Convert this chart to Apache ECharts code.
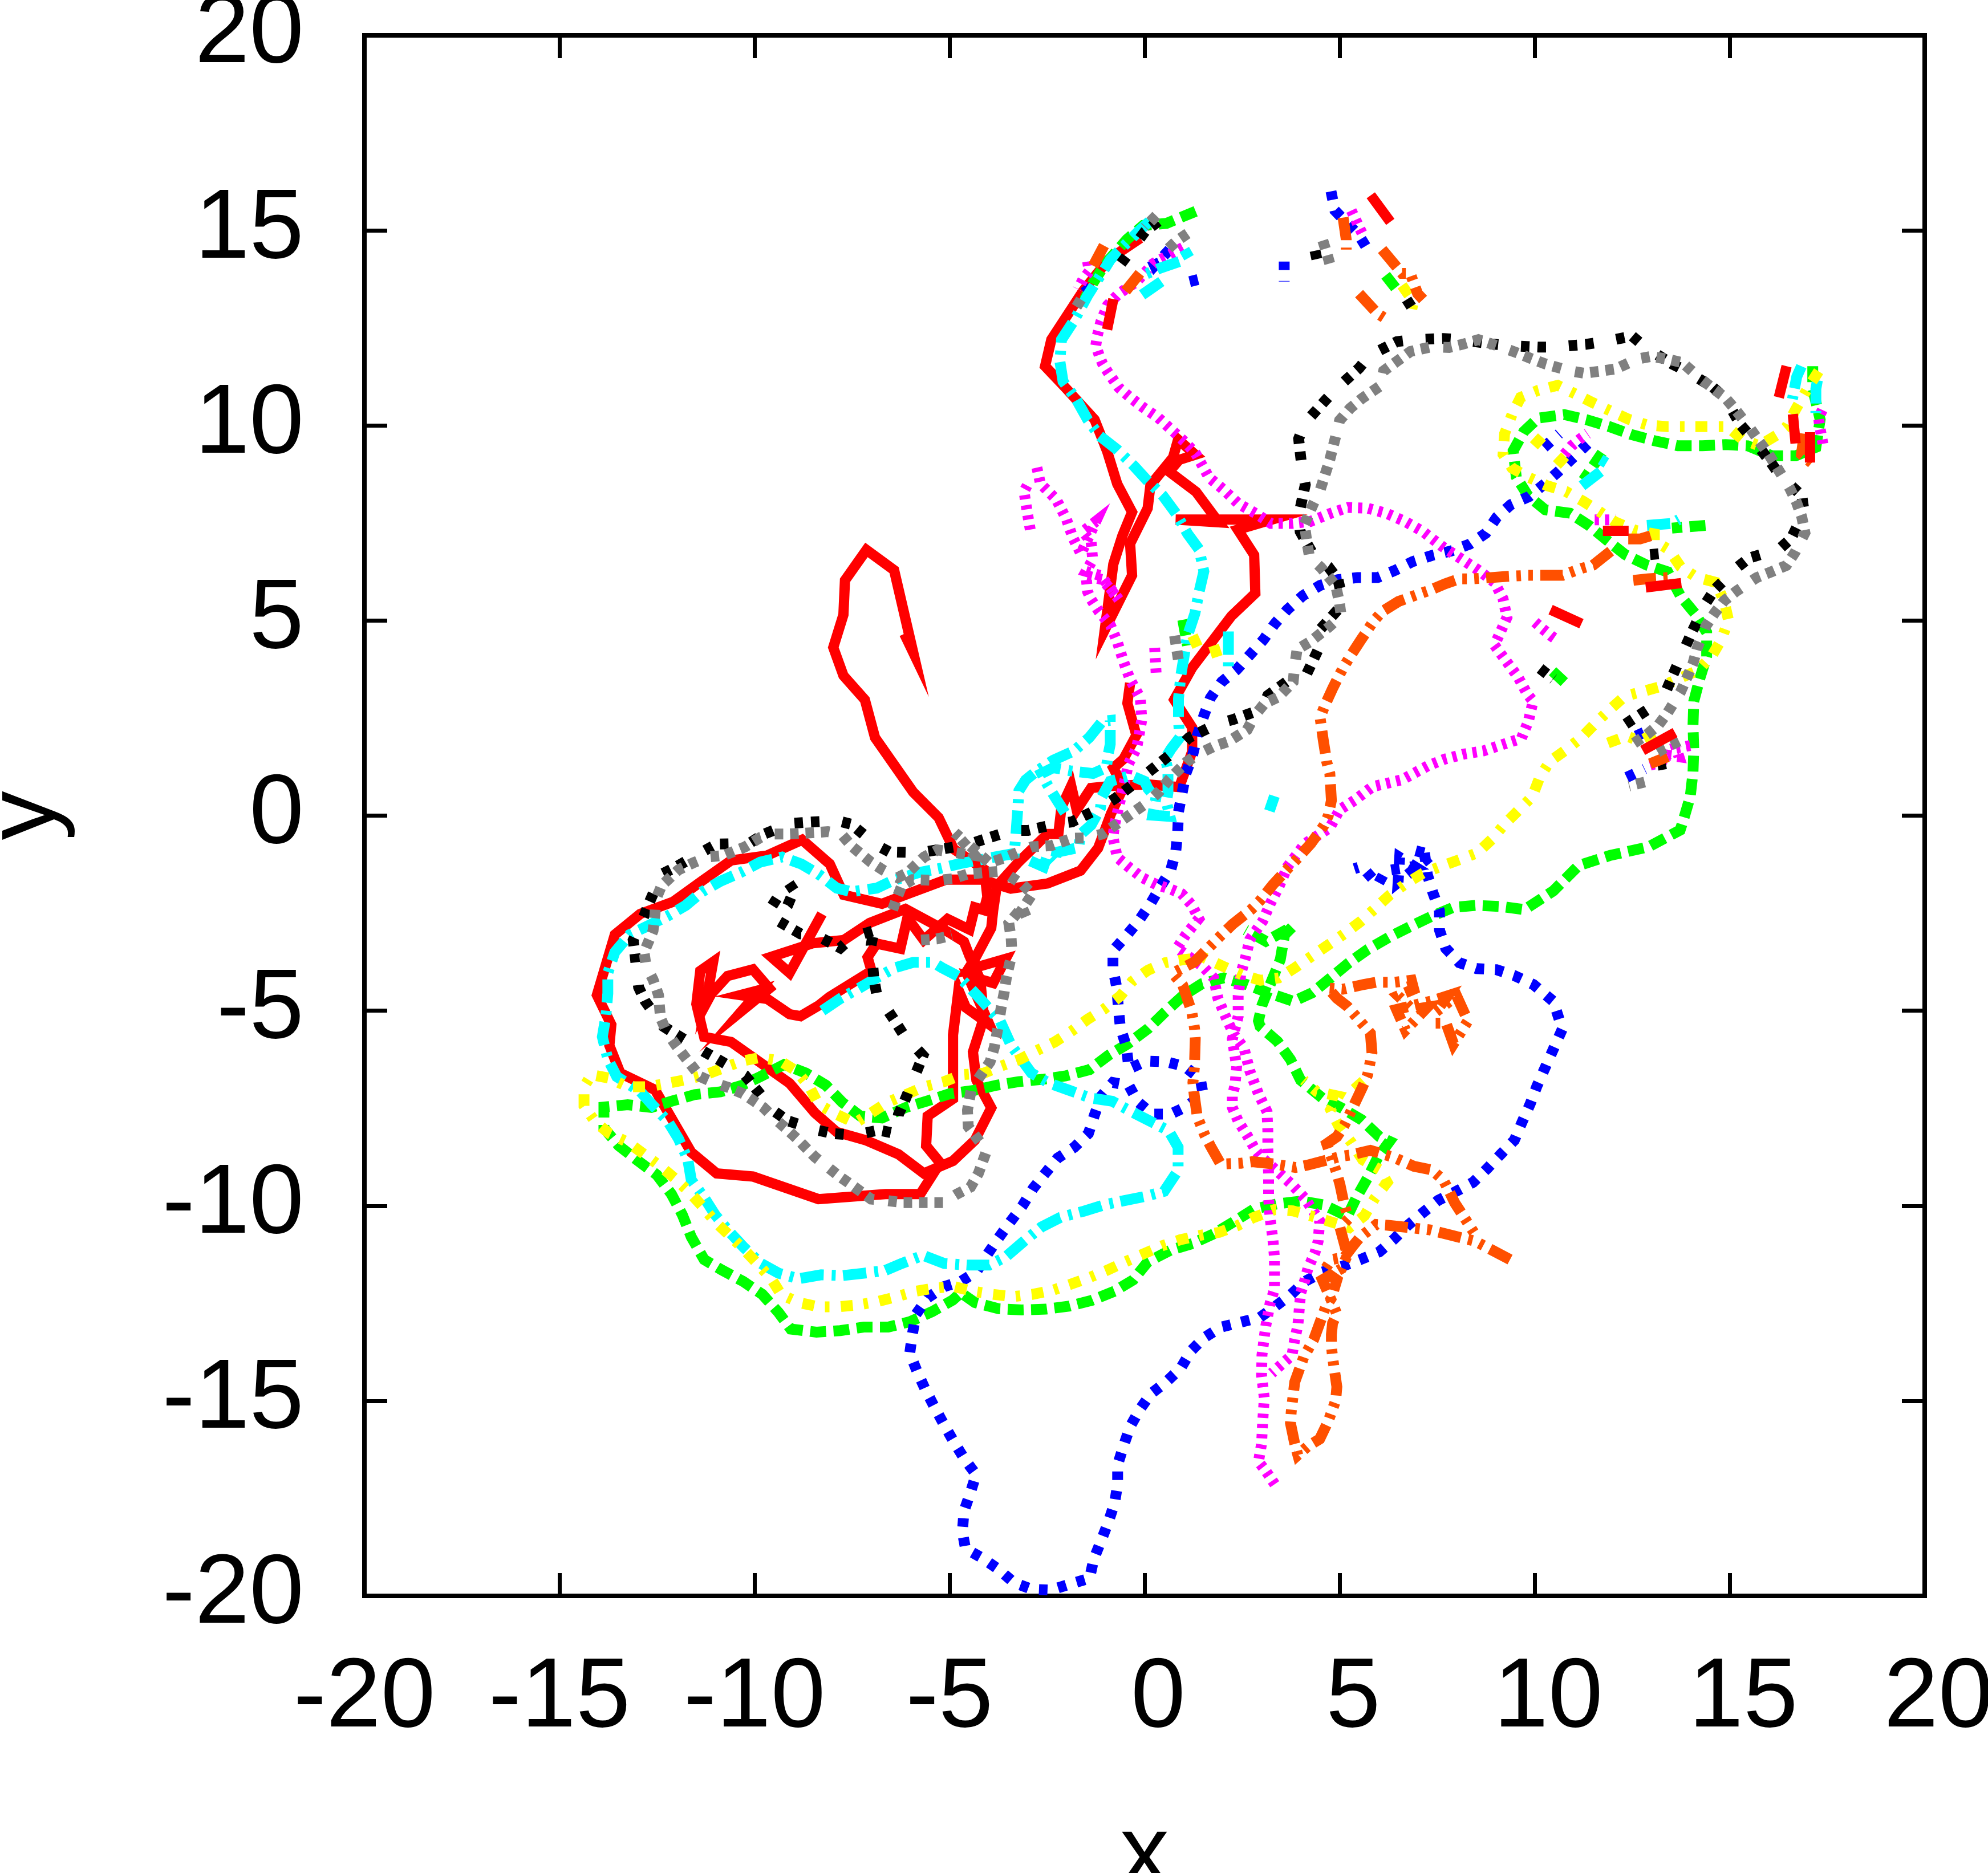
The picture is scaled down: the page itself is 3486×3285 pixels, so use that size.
<!DOCTYPE html>
<html>
<head>
<meta charset="utf-8">
<title>x y trajectories</title>
<script src="https://cdn.jsdelivr.net/npm/echarts@6/dist/echarts.min.js"></script>
<style>
  html, body { margin: 0; padding: 0; background: #fff; }
  #chart { width: 3486px; height: 3285px; }
</style>
</head>
<body>
<div id="chart"></div>
<script>
// tick labels
const xTicks = [-20, -15, -10, -5, 0, 5, 10, 15, 20]
const yTicks = [-20, -15, -10, -5, 0, 5, 10, 15, 20]

// red
const redLoopInner = [[-6.16,4.66],[-5.93,4.18],[-6.42,6.29],[-7.13,6.81],[-7.68,6.03],[-7.72,5.15],[-7.98,4.31],[-7.72,3.59],[-7.17,2.97],[-6.91,2.0],[-5.93,0.6],[-5.28,-0.05],[-4.89,-0.86],[-4.11,-1.38],[-4.03,-2.08],[-4.12,-2.42],[-4.35,-2.35],[-4.49,-2.92],[-5.05,-2.65],[-5.66,-3.19],[-6.08,-2.62],[-6.26,-3.41],[-6.87,-3.28],[-7.1,-3.63],[-7.0,-3.98],[-8.08,-4.65],[-8.36,-4.87],[-8.82,-5.14],[-9.1,-5.09],[-9.67,-4.7],[-10.36,-4.6],[-9.86,-4.47],[-10.32,-5.0],[-9.62,-4.43],[-10.04,-3.94],[-10.69,-4.11],[-11.11,-4.57],[-11.25,-4.83],[-11.06,-3.75],[-11.39,-3.98],[-11.49,-4.83],[-11.29,-5.67],[-10.6,-5.8],[-9.1,-6.86],[-8.45,-7.62],[-7.89,-8.11],[-7.15,-8.32],[-6.31,-8.68],[-5.66,-9.17],[-4.91,-8.85],[-4.35,-8.32],[-3.93,-7.49],[-4.31,-6.78],[-4.4,-6.06],[-4.12,-5.18],[-4.21,-4.21],[-4.49,-3.59],[-4.63,-3.23],[-5.0,-3.0],[-6.13,-2.39],[-7.05,-2.75],[-7.71,-3.19],[-8.5,-3.27],[-9.57,-3.62],[-9.1,-4.03],[-8.27,-2.52]]
const redLoopOuter = [[-0.11,14.8],[-0.93,14.25],[-1.58,13.44],[-2.39,12.2],[-2.55,11.52],[-2.03,10.97],[-1.28,10.15],[-0.96,9.34],[-0.7,8.5],[-0.32,7.78],[-0.57,7.17],[-0.8,6.45],[-1.02,4.76],[-0.32,6.16],[-0.37,6.97],[0.08,7.88],[0.15,8.47],[0.73,9.18],[0.86,9.64],[1.3,9.25],[0.89,9.12],[0.63,8.82],[1.32,8.3],[1.9,7.52],[0.8,7.59],[3.27,7.59],[2.39,7.33],[2.81,6.68],[2.84,5.7],[2.23,5.12],[1.22,3.79],[0.76,2.97],[1.22,2.26],[1.22,1.64],[0.89,0.73],[0.08,0.8],[-0.86,0.76],[-1.37,0.71],[-1.74,0.15],[-1.88,0.76],[-2.13,0.22],[-2.21,-0.47],[-2.49,-0.47],[-3.23,-1.19],[-3.79,-1.81],[-3.88,-2.42],[-3.93,-2.88],[-4.35,-3.67],[-4.53,-3.95],[-3.56,-3.67],[-3.88,-4.29],[-4.53,-4.11],[-3.98,-5.35],[-4.58,-4.92],[-4.77,-4.47],[-4.91,-5.62],[-4.91,-6.95],[-4.91,-7.26],[-5.56,-7.7],[-5.6,-8.46],[-5.24,-8.9],[-5.75,-9.7],[-6.64,-9.7],[-8.36,-9.83],[-10.04,-9.25],[-10.97,-9.17],[-11.62,-8.63],[-12.55,-7.03],[-13.44,-6.6],[-13.72,-5.89],[-13.67,-5.36],[-14.04,-4.6],[-13.58,-3.05],[-12.93,-2.52],[-12.09,-2.21],[-11.34,-1.67],[-10.6,-1.15],[-9.67,-1.02],[-8.78,-0.62],[-8.07,-1.24],[-7.71,-2.03],[-6.73,-2.26],[-6.13,-2.03],[-5.09,-1.64],[-4.18,-1.64],[-3.43,-1.87],[-2.49,-1.74],[-1.64,-1.41],[-1.19,-0.83],[-0.86,0.05],[-0.54,0.73],[-0.8,1.22],[-0.54,1.45],[-0.21,2.06],[-0.44,2.88],[-0.37,3.4]]
const redBits = [
  [[-0.8,13.24],[-0.96,12.46]],
  [[5.8,15.9],[6.3,15.22]],
  [[16.46,11.52],[16.26,10.72]],
  [[16.62,10.29],[16.69,9.54]],
  [[17.06,9.83],[17.06,9.05]],
  [[11.75,7.3],[12.41,7.3]],
  [[12.85,5.85],[13.76,5.96]],
  [[10.41,5.28],[11.2,4.92]],
  [[12.77,1.67],[13.6,2.13]]
]

// green
const greenMain = [[17.13,11.52],[17.13,10.94],[17.32,10.15],[17.21,9.44],[16.69,9.22],[16.09,9.22],[15.46,9.48],[14.9,9.51],[14.3,9.48],[13.67,9.48],[13.07,9.61],[12.47,9.77],[11.92,9.97],[11.32,10.15],[10.76,10.28],[10.09,10.19],[9.72,9.84],[9.45,9.35],[9.53,8.68],[9.83,8.2],[10.27,7.84],[10.91,7.75],[11.39,7.44],[11.88,7.04],[12.32,6.69],[12.88,6.42],[13.41,6.25],[13.74,5.63],[14.11,5.18],[14.41,4.7],[14.41,4.08],[14.23,3.5],[14.08,2.93],[14.06,2.31],[14.08,1.69],[14.06,1.11],[13.99,0.49],[13.82,-0.09],[13.73,-0.37],[12.92,-0.8],[11.94,-1.02],[11.13,-1.28],[10.48,-1.93],[9.74,-2.41],[9.15,-2.33],[8.51,-2.3],[7.92,-2.35],[7.36,-2.58],[6.8,-2.85],[6.28,-3.11],[5.72,-3.43],[5.23,-3.78],[4.77,-4.16],[4.3,-4.54],[3.82,-4.76],[3.22,-4.56],[2.62,-4.33],[2.03,-4.16],[1.47,-4.31],[0.98,-4.62],[0.53,-5.03],[0.09,-5.46],[-0.43,-5.85],[-0.92,-6.14],[-1.41,-6.51],[-2.02,-6.67],[-2.62,-6.76],[-3.23,-6.82],[-3.79,-6.91],[-4.35,-7.04],[-5.0,-7.13],[-5.56,-7.31],[-6.12,-7.48],[-6.73,-7.75],[-7.29,-7.7],[-7.75,-7.35],[-8.17,-6.91],[-8.68,-6.6],[-9.24,-6.38],[-9.85,-6.69],[-10.31,-6.91],[-10.87,-7.08],[-11.53,-7.15],[-12.09,-7.31],[-12.64,-7.48],[-13.25,-7.41],[-13.86,-7.47],[-13.86,-8.01],[-13.48,-8.46],[-12.97,-8.86],[-12.5,-9.21],[-12.13,-9.7],[-11.85,-10.23],[-11.62,-10.8],[-11.29,-11.38],[-10.83,-11.65],[-10.29,-11.94],[-9.8,-12.27],[-9.38,-12.74],[-9.07,-13.16],[-8.41,-13.24],[-7.8,-13.2],[-7.2,-13.11],[-6.57,-13.11],[-6.01,-12.97],[-5.44,-12.71],[-4.92,-12.42],[-4.71,-12.23],[-4.35,-12.48],[-3.74,-12.64],[-3.14,-12.67],[-2.53,-12.65],[-1.92,-12.57],[-1.34,-12.42],[-0.77,-12.19],[-0.29,-11.9],[0.08,-11.44],[0.66,-11.14],[1.23,-10.97],[1.77,-10.72],[2.32,-10.39],[2.8,-10.09],[3.41,-9.95],[4.02,-9.88],[4.6,-9.98],[5.2,-10.27],[5.42,-9.81],[5.72,-9.28],[5.98,-8.76],[6.28,-8.35],[6.02,-8.23],[5.57,-7.8],[5.08,-7.51],[4.56,-7.24],[4.0,-6.78],[3.74,-6.25],[3.41,-5.79],[2.96,-5.4],[2.92,-5.26],[3.01,-4.86],[3.22,-4.33],[3.48,-3.69],[3.59,-3.05],[3.8,-2.84],[3.11,-3.22],[2.59,-2.93]]
const greenBits = [
  [[11.73,9.3],[11.43,8.86],[11.25,8.6]],
  [[14.38,7.44],[13.52,7.37]],
  [[10.46,3.7],[10.87,3.32]],
  [[1.31,15.49],[0.56,15.18],[-0.03,15.13],[-0.45,14.77],[-1.0,14.15],[-1.33,13.64],[-1.54,13.23]],
  [[0.98,5.02],[1.1,4.36]],
  [[6.18,13.85],[6.55,13.38]]
]

// blue
const blueMain = [[11.36,9.53],[10.98,9.17],[10.61,8.82],[10.24,8.49],[9.86,8.18],[9.39,7.97],[9.03,7.65],[8.75,7.24],[8.34,6.96],[7.85,6.78],[7.37,6.67],[6.87,6.51],[6.43,6.29],[5.97,6.1],[5.46,6.1],[4.96,6.05],[4.5,5.9],[4.06,5.64],[3.66,5.28],[3.34,4.92],[3.05,4.51],[2.7,4.12],[2.36,3.74],[1.98,3.43],[1.69,3.02],[1.52,2.56],[1.35,2.05],[1.23,1.54],[1.06,1.08],[0.87,0.1],[0.85,-0.41],[0.8,-0.92],[0.67,-1.4],[0.4,-1.83],[0.15,-2.26],[-0.14,-2.68],[-0.46,-3.07],[-0.81,-3.46],[-0.81,-3.92],[-0.71,-4.42],[-0.67,-4.94],[-0.62,-5.44],[-0.47,-5.9],[-0.4,-6.49],[0.05,-6.29],[0.56,-6.31],[1.03,-6.43],[1.43,-6.75],[1.5,-7.13],[1.09,-7.45],[0.67,-7.65],[0.2,-7.65],[-0.17,-7.34],[-0.4,-6.92],[-0.81,-6.84],[-1.11,-7.19],[-1.29,-7.69],[-1.44,-8.15],[-1.8,-8.5],[-2.23,-8.78],[-2.55,-9.17],[-2.86,-9.56],[-3.13,-10.0],[-3.44,-10.41],[-3.74,-10.82],[-4.02,-11.23],[-4.31,-11.69],[-4.71,-11.94],[-5.13,-12.07],[-5.56,-12.36],[-5.86,-12.78],[-5.95,-13.28],[-6.02,-13.78],[-5.83,-14.25],[-5.62,-14.71],[-5.38,-15.17],[-5.14,-15.61],[-4.89,-16.05],[-4.63,-16.47],[-4.32,-16.89],[-4.47,-17.37],[-4.63,-17.83],[-4.67,-18.36],[-4.59,-18.79],[-4.16,-19.03],[-3.74,-19.32],[-3.35,-19.66],[-2.89,-19.83],[-2.4,-19.85],[-1.92,-19.7],[-1.41,-19.55],[-1.3,-19.05],[-1.11,-18.58],[-0.93,-18.11],[-0.77,-17.63],[-0.69,-17.14],[-0.69,-16.64],[-0.53,-16.13],[-0.37,-15.66],[-0.13,-15.23],[0.16,-14.82],[0.56,-14.51],[0.93,-14.16],[1.19,-13.72],[1.53,-13.38],[1.96,-13.11],[2.45,-12.99],[2.96,-12.86],[3.35,-12.58],[3.76,-12.27],[4.11,-11.94],[4.56,-11.7],[5.05,-11.56],[5.53,-11.38],[6.02,-11.18],[6.39,-10.86],[6.75,-10.5],[7.13,-10.18],[7.53,-9.86],[7.99,-9.63],[8.42,-9.4],[8.78,-9.05],[9.13,-8.68],[9.48,-8.32],[9.68,-7.85],[9.89,-7.38],[10.06,-6.93],[10.71,-5.47],[10.48,-4.76],[9.97,-4.33],[9.48,-4.1],[9.02,-3.95],[8.51,-3.92],[8.07,-3.77],[7.72,-3.4],[7.56,-2.93],[7.56,-2.44],[7.39,-1.97],[7.25,-1.51],[7.17,-0.9],[6.95,-0.9],[7.36,-1.01],[6.5,-1.71],[6.54,-1.07],[6.91,-1.3],[6.17,-1.42],[5.98,-1.77],[5.57,-1.3],[5.38,-1.36]]
const blueBits = [
  [[10.24,9.44],[10.63,9.79]],
  [[3.58,14.2],[3.58,13.69]],
  [[4.78,16.0],[4.88,15.51],[5.5,14.87],[5.78,14.41]],
  [[1.37,13.74],[0.89,13.62]],
  [[0.64,14.51],[0.26,14.1],[0.14,14.36]],
  [[-1.38,13.54],[-1.71,13.28]],
  [[12.36,0.98],[12.82,1.2]],
  [[12.8,2.13],[12.4,1.95]]
]

// magenta
const magentaTop = [[0.98,14.56],[0.22,14.15],[-0.2,13.69],[-0.66,13.38],[-0.95,13.08],[-1.12,12.66],[-1.21,12.31],[-1.25,12.05],[-1.16,11.79],[-1.08,11.59],[-0.95,11.38],[-0.66,10.97],[-0.37,10.72],[-0.03,10.46],[0.35,10.2],[0.68,9.9],[1.02,9.59],[1.31,9.28],[1.65,8.67],[2.02,8.36],[2.4,8.0],[2.86,7.74],[3.24,7.49],[3.79,7.49],[4.25,7.54],[4.75,7.74],[5.21,7.9],[5.72,7.88],[6.22,7.74],[6.68,7.54],[7.14,7.28],[7.6,6.92],[8.15,6.56],[8.56,6.29],[8.97,5.98],[9.19,5.56],[9.29,5.08],[9.08,4.61],[8.97,4.37],[9.25,3.99],[9.57,3.56],[9.81,3.12],[9.96,2.93],[9.84,2.42],[9.66,1.98],[9.17,1.82],[8.69,1.66],[8.2,1.58],[7.7,1.45],[7.27,1.28],[6.6,0.92],[5.84,0.74],[5.38,0.39],[5.0,0.15],[4.75,-0.31],[4.11,-0.72],[3.67,-1.3],[3.44,-1.83],[3.22,-2.26],[3.03,-2.7],[2.7,-3.17],[2.59,-3.63],[2.47,-4.04],[2.4,-4.62],[2.4,-5.15],[2.25,-5.73],[2.36,-6.43],[2.32,-6.9],[2.25,-7.19],[2.25,-7.48],[2.4,-7.83],[2.62,-8.18],[2.85,-8.58],[3.0,-8.76],[3.52,-9.22],[3.78,-9.46],[4.11,-9.81],[4.49,-10.39],[4.45,-10.91],[4.37,-11.2],[4.19,-11.6],[4.11,-11.9],[4.0,-12.25],[3.96,-12.72],[3.93,-13.07],[3.85,-13.42],[3.78,-13.83],[3.52,-14.06],[3.26,-14.29]]
const magentaMid = [[-2.76,8.92],[-2.67,8.51],[-2.26,8.1],[-2.0,7.59],[-1.84,7.13],[-1.63,6.71],[-1.25,7.54],[-1.58,7.28],[-1.37,7.02],[-1.33,6.56],[-1.5,6.26],[-1.12,6.15],[-0.66,5.54],[-1.08,6.05],[-1.5,6.15],[-1.46,5.74],[-1.37,5.54],[-1.17,5.23],[-0.87,4.87],[-0.7,4.46],[-0.54,3.95],[-0.37,3.49],[-0.11,3.02],[-0.07,2.46],[-0.2,1.74],[-0.41,1.33],[-0.77,-0.25],[-0.81,-0.55],[-0.7,-1.07],[-0.43,-1.3],[-0.06,-1.59],[0.31,-1.77],[0.68,-1.89],[0.95,-2.0],[1.21,-2.29],[1.39,-2.64],[1.06,-3.05],[0.83,-3.4],[1.24,-3.69],[1.5,-3.87],[1.77,-4.16],[1.88,-4.68],[2.0,-4.97],[2.1,-5.2],[2.29,-5.61],[2.55,-5.96],[2.7,-6.55],[2.92,-7.13],[3.14,-7.59],[3.16,-8.06],[3.16,-8.52],[3.18,-9.22],[3.18,-9.81],[3.22,-10.33],[3.29,-10.86],[3.33,-11.32],[3.33,-11.79],[3.33,-12.14],[3.22,-12.49],[3.11,-13.07],[3.07,-13.36],[3.01,-13.83],[3.0,-14.35],[3.07,-14.93],[3.03,-15.51],[3.0,-16.1],[2.92,-16.56],[3.11,-16.8],[3.38,-17.2]]
const magentaBits = [
  [[-3.01,8.46],[-3.09,8.31],[-3.01,7.79],[-2.93,7.33]],
  [[0.26,4.3],[0.3,3.59]],
  [[10.01,4.96],[10.2,4.79],[10.42,4.61],[10.61,4.48]],
  [[11.54,7.58],[12.07,7.58]],
  [[17.39,9.53],[17.35,9.75],[17.31,9.97],[17.28,10.19],[17.39,10.43]],
  [[10.76,9.26],[10.95,9.48],[11.17,9.66],[11.36,9.79]],
  [[12.96,1.29],[13.26,1.38],[13.41,1.55],[13.7,1.51],[13.63,1.73],[13.85,1.77],[14.12,1.82]],
  [[5.3,15.51],[5.41,15.28],[5.5,15.08],[5.63,14.82]],
  [[-1.46,14.2],[-1.42,13.95],[-1.58,13.74],[-1.71,13.49]]
]

// cyan
const cyanLong = [[-8.26,-5.0],[-7.8,-4.69],[-7.33,-4.43],[-6.87,-4.16],[-6.4,-3.9],[-5.93,-3.76],[-5.42,-3.76],[-5.19,-3.9],[-4.77,-4.12],[-4.49,-4.4],[-4.3,-4.6],[-4.02,-4.91],[-3.7,-5.27],[-3.42,-5.89],[-2.9,-6.6],[-2.44,-6.86],[-1.93,-7.04],[-1.38,-7.24],[-0.83,-7.32],[-0.35,-7.58],[0.14,-7.83],[0.62,-8.08],[0.86,-8.5],[0.86,-9.09],[0.5,-9.63],[0.02,-9.76],[-0.53,-9.87],[-1.01,-9.97],[-1.56,-10.14],[-2.16,-10.3],[-2.65,-10.55],[-3.07,-10.89],[-3.56,-11.31],[-3.98,-11.52],[-4.53,-11.52],[-5.13,-11.48],[-5.68,-11.27],[-6.23,-11.48],[-6.65,-11.66],[-7.2,-11.73],[-7.74,-11.79],[-8.29,-11.77],[-8.87,-11.87],[-9.38,-11.73],[-9.85,-11.47],[-10.27,-11.07],[-10.64,-10.67],[-11.01,-10.23],[-11.29,-9.79],[-11.62,-9.34],[-11.71,-8.81],[-11.95,-8.28],[-12.22,-7.84],[-12.64,-7.39],[-12.92,-7.08],[-13.53,-6.69],[-13.76,-6.24],[-13.9,-5.67],[-13.81,-5.14],[-13.76,-4.56],[-13.76,-4.03],[-13.58,-3.5],[-13.2,-3.05],[-12.74,-2.83],[-12.22,-2.57],[-11.76,-2.3],[-11.34,-1.95],[-10.87,-1.68],[-10.36,-1.46],[-9.85,-1.19],[-9.29,-1.06],[-8.8,-1.24],[-8.36,-1.5],[-7.89,-1.86],[-7.52,-1.95],[-6.87,-1.86],[-6.49,-1.68],[-5.79,-1.46],[-5.23,-1.35],[-4.73,-1.23],[-4.1,-1.11],[-3.34,-0.97],[-3.29,-0.38],[-3.25,0.18],[-3.22,0.64],[-3.05,0.91],[-2.78,1.13],[-2.34,1.42],[-1.81,1.66],[-1.42,2.0],[-1.08,2.42],[-0.88,2.44],[-0.88,1.83],[-0.93,1.58],[-0.98,1.23],[-1.32,1.08],[-1.91,1.15],[-2.34,1.23],[-2.64,1.08],[-2.49,0.79],[-2.25,0.4],[-2.0,0.01]]
const cyanUp = [[-2.93,-1.16],[-2.59,-1.31],[-2.49,-1.02],[-2.3,-1.21],[-2.25,-0.94],[-1.69,-0.82],[-1.64,-0.48],[-1.37,-0.24],[-1.13,0.2],[-1.1,0.47],[-0.88,0.88],[-0.35,1.03],[0.0,0.88],[0.09,0.69],[0.29,0.45],[0.21,0.01],[0.65,-0.02],[0.56,0.35],[0.6,0.59],[0.6,1.18],[0.53,1.47],[0.68,1.71],[0.9,2.0],[0.87,2.44],[0.87,3.0],[0.93,3.59],[1.1,4.61],[1.29,5.18],[1.4,5.74],[1.52,6.26],[1.4,6.82],[1.1,7.23],[0.81,7.74],[0.47,8.2],[0.05,8.61],[-0.28,8.97],[-0.7,9.38],[-1.16,9.74],[-1.46,10.15],[-1.75,10.67],[-2.09,11.13],[-2.17,11.64],[-2.13,12.2],[-1.79,12.72],[-1.46,13.33],[-0.87,14.26],[-0.16,14.97],[0.18,15.28]]
const cyanBits = [
  [[1.14,14.3],[1.02,14.51]],
  [[0.89,14.2],[0.39,14.03],[-0.03,13.85]],
  [[0.43,13.69],[-0.16,13.28]],
  [[2.15,4.72],[2.15,3.79]],
  [[3.33,0.5],[3.2,0.12]],
  [[16.84,11.52],[16.72,11.25],[16.61,10.68]],
  [[17.25,11.16],[17.21,10.94],[17.21,10.32]],
  [[12.88,7.44],[13.52,7.49],[13.7,7.59]],
  [[11.84,9.04],[11.69,9.13]],
  [[11.69,8.82],[11.17,8.42]]
]

// yellow
const yellowMain = [[17.28,11.39],[16.99,10.94],[16.69,10.41],[16.46,9.97],[16.2,9.75],[15.75,9.48],[15.31,9.66],[14.94,9.97],[14.41,9.97],[13.91,9.97],[13.39,9.97],[12.9,10.01],[12.41,10.16],[11.95,10.37],[11.48,10.59],[11.04,10.81],[10.59,11.03],[10.09,10.9],[9.64,10.72],[9.42,10.28],[9.23,9.79],[9.19,9.26],[9.42,8.91],[9.83,8.68],[10.31,8.46],[10.8,8.31],[11.24,8.06],[11.65,7.8],[12.06,7.53],[12.59,7.31],[13.07,7.22],[13.07,7.04],[13.44,6.82],[13.74,6.38],[14.15,6.11],[14.64,5.98],[14.86,5.49],[14.97,5.01],[14.79,4.52],[14.56,4.12],[14.19,3.72],[13.78,3.55],[13.27,3.32],[12.8,3.19],[12.31,3.06],[11.93,2.72],[11.56,2.37],[11.21,2.01],[10.81,1.69],[10.39,1.39],[10.13,0.98],[9.94,0.49],[9.59,0.14],[9.22,-0.23],[8.91,-0.6],[8.54,-0.95],[8.07,-1.13],[7.6,-1.3],[7.13,-1.48],[6.69,-1.75],[6.28,-2.04],[5.9,-2.39],[5.53,-2.72],[5.12,-3.03],[4.7,-3.32],[4.29,-3.6],[3.87,-3.89],[3.44,-4.16],[2.97,-4.22],[2.5,-4.08],[2.03,-3.87],[1.5,-3.63],[1.02,-3.69],[0.53,-3.77],[0.09,-3.96],[-0.32,-4.25],[-0.62,-4.62],[-1.04,-4.96],[-1.46,-5.22],[-1.88,-5.53],[-2.3,-5.8],[-2.76,-6.02],[-3.18,-6.24],[-3.68,-6.42],[-4.12,-6.6],[-4.68,-6.64],[-5.14,-6.82],[-5.65,-6.95],[-6.07,-7.13],[-6.59,-7.35],[-7.01,-7.62],[-7.42,-7.88],[-7.89,-7.66],[-8.36,-7.4],[-8.59,-6.95],[-8.92,-6.55],[-9.34,-6.29],[-9.85,-6.2],[-10.31,-6.29],[-10.78,-6.46],[-11.25,-6.64],[-11.76,-6.77],[-12.22,-6.86],[-12.74,-6.95],[-13.25,-6.95],[-13.72,-6.73],[-14.18,-6.64],[-14.37,-6.95],[-14.37,-7.44],[-14.09,-7.84],[-13.72,-8.15],[-13.25,-8.37],[-12.83,-8.68],[-12.41,-8.99],[-12.04,-9.3],[-11.67,-9.65],[-11.34,-10.01],[-11.01,-10.41],[-10.64,-10.76],[-10.27,-11.12],[-9.94,-11.47],[-9.57,-11.87],[-9.32,-12.27],[-8.87,-12.48],[-8.35,-12.59],[-7.86,-12.59],[-7.34,-12.54],[-6.86,-12.46],[-6.35,-12.33],[-5.86,-12.19],[-5.38,-12.11],[-4.89,-12.07],[-4.41,-12.19],[-3.89,-12.27],[-3.38,-12.33],[-2.87,-12.27],[-2.37,-12.17],[-1.92,-12.02],[-1.44,-11.85],[-0.95,-11.65],[-0.5,-11.44],[-0.02,-11.23],[0.44,-11.03],[0.92,-10.87],[1.41,-10.76],[1.92,-10.68],[2.38,-10.51],[2.8,-10.3],[3.33,-10.1],[3.8,-10.13],[4.3,-10.27],[4.77,-10.41],[5.25,-10.56],[5.64,-10.25],[5.9,-9.81],[6.22,-9.4],[6.04,-9.08],[5.59,-8.82],[5.31,-8.39],[5.0,-8.0],[4.77,-7.54],[4.97,-7.19],[4.41,-7.07],[4.08,-6.78]]
const yellowBits = [
  [[5.38,-7.01],[5.75,-6.68]],
  [[1.23,4.61],[1.44,4.15]],
  [[1.77,4.36],[1.94,3.85]],
  [[6.6,13.59],[6.89,13.18],[6.85,12.97]],
  [[9.98,9.48],[10.35,9.88]],
  [[10.57,8.99],[10.95,9.39]],
  [[11.88,1.86],[12.36,2.04],[12.7,1.91],[13.18,2.17],[13.41,1.82]]
]

// black
const blackMain = [[13.39,3.24],[13.55,3.62],[13.87,4.34],[14.04,4.72],[14.39,5.45],[14.61,5.79],[15.18,6.35],[15.49,6.6],[16.28,6.84],[16.58,7.11],[16.91,7.78],[16.85,8.2],[16.28,8.73],[16.05,9.06],[15.55,9.7],[15.27,10.03],[14.9,10.68],[14.56,10.99],[13.88,11.4],[13.52,11.58],[12.82,12.02],[12.5,12.29],[11.73,12.14],[11.32,12.08],[10.51,12.01],[10.1,12.01],[9.3,12.05],[8.9,12.09],[8.1,12.2],[7.66,12.23],[6.89,12.2],[6.47,12.15],[5.76,11.79],[5.5,11.47],[4.89,10.92],[4.62,10.63],[4.1,10.05],[3.95,9.66],[4.04,8.87],[4.12,8.48],[3.95,7.69],[3.99,7.28],[4.37,6.61],[4.71,6.38],[4.96,6.05],[5.04,5.69],[5.0,5.33],[4.5,4.77],[4.5,4.36],[4.16,3.64],[3.79,3.54],[3.16,3.08],[2.99,2.72],[2.26,2.46],[1.88,2.36],[1.14,2.0],[0.85,1.72],[0.22,1.21],[-0.12,0.94],[-0.74,0.45],[-1.08,0.23],[-1.86,-0.16],[-2.25,-0.21],[-2.99,-0.38],[-3.4,-0.38],[-4.16,-0.62],[-4.54,-0.75],[-5.33,-0.88],[-5.75,-0.95],[-6.54,-0.93],[-6.88,-0.75],[-7.52,-0.22],[-7.87,-0.13],[-8.66,-0.17],[-9.07,-0.2],[-9.77,-0.48],[-10.13,-0.71],[-10.97,-0.73],[-11.34,-0.93],[-12.04,-1.33],[-12.38,-1.5],[-12.69,-2.21],[-12.83,-2.57],[-13.11,-3.19],[-13.06,-3.59],[-12.97,-4.4],[-12.8,-4.76],[-12.34,-5.4],[-11.99,-5.62],[-11.29,-6.05],[-10.95,-6.24],[-10.24,-6.66],[-9.99,-6.97],[-9.5,-7.57],[-9.15,-7.82],[-8.4,-8.06],[-7.98,-8.15],[-7.42,-8.19],[-6.82,-8.06],[-6.38,-8.15],[-6.31,-7.66],[-6.15,-7.31],[-5.84,-6.55],[-5.68,-6.15],[-6.2,-5.58],[-6.43,-5.22],[-6.87,-4.56],[-6.94,-4.18],[-7.01,-3.32],[-6.94,-2.95],[-7.5,-3.12],[-7.8,-3.39],[-8.45,-3.05],[-8.82,-3.03],[-9.46,-2.66],[-9.15,-2.3],[-8.99,-1.92],[-9.15,-1.68],[-9.57,-2.35]]
const blackBits = [
  [[12.87,2.7],[12.53,2.48],[12.2,2.26]],
  [[0.35,15.23],[0.01,14.97],[-0.43,14.38],[-0.68,14.05]],
  [[4.37,14.48],[4.46,14.07]],
  [[6.72,13.23],[6.93,12.9]],
  [[10.14,3.77],[10.48,3.5]],
  [[12.96,6.69],[13.37,6.73]],
  [[13.15,1.29],[13.52,1.36]]
]

// orange
const orangeMain = [[11.95,6.78],[11.5,6.42],[11.21,6.34],[10.72,6.16],[10.14,6.16],[9.83,6.16],[9.27,6.13],[8.73,6.09],[8.41,6.07],[8.07,6.07],[7.7,5.94],[7.35,5.79],[7.06,5.69],[6.51,5.49],[6.09,5.23],[5.86,4.97],[5.55,4.51],[5.25,4.05],[5.09,3.79],[4.83,3.28],[4.62,2.82],[4.5,2.51],[4.58,1.95],[4.67,1.38],[4.75,1.08],[4.79,0.39],[4.71,0.0],[4.6,-0.25],[4.26,-0.72],[3.89,-1.13],[3.67,-1.36],[3.29,-1.77],[2.96,-2.18],[2.73,-2.41],[2.25,-2.79],[1.92,-3.11],[1.69,-3.34],[1.28,-3.75],[0.72,-4.04],[0.98,-4.35],[1.21,-5.03],[1.28,-5.44],[1.3,-5.71],[1.28,-6.43],[1.24,-6.84],[1.27,-7.13],[1.35,-7.71],[1.54,-8.18],[1.69,-8.47],[1.95,-8.93],[2.47,-8.91],[2.77,-8.87],[3.33,-8.93],[3.87,-9.02],[4.17,-8.96],[4.71,-8.82],[5.05,-8.73],[5.27,-8.7],[5.79,-8.58],[6.39,-8.76],[6.91,-8.99],[7.36,-9.08],[7.66,-9.34],[7.81,-9.63],[7.95,-9.92],[8.44,-10.68]]
const orangeTail = [[9.37,-11.38],[8.48,-10.91],[7.88,-10.76],[7.32,-10.62],[6.8,-10.56],[6.24,-10.5],[5.94,-10.48],[5.53,-10.8],[5.34,-11.03],[5.12,-11.32],[4.79,-11.38],[4.6,-11.67],[4.93,-11.9],[4.79,-12.37],[4.64,-12.6],[4.34,-13.42],[4.08,-13.88],[3.85,-14.52],[3.76,-15.28],[3.74,-15.57],[3.85,-16.1],[3.93,-16.39],[4.19,-16.16],[4.49,-15.98],[4.71,-15.52],[4.9,-14.99],[4.93,-14.64],[4.82,-13.88],[4.79,-13.59],[4.79,-13.3],[4.82,-13.01],[4.93,-12.78],[4.79,-12.43],[4.56,-11.9],[5.05,-11.61],[5.2,-11.26],[5.01,-10.56],[5.23,-10.33],[5.12,-9.98],[5.01,-9.46],[4.93,-9.17],[4.67,-8.41],[4.93,-8.23],[5.12,-7.94],[5.34,-7.48],[5.59,-6.95],[5.72,-6.64],[5.83,-6.08],[5.79,-5.58],[5.57,-5.32],[5.2,-4.89],[4.93,-4.68],[4.7,-4.42],[5.08,-4.45],[5.61,-4.33],[5.94,-4.27],[6.42,-4.27],[6.84,-4.22],[6.9,-4.45],[6.5,-4.62],[6.87,-4.97],[7.25,-4.91],[6.69,-5.5],[6.46,-4.97],[7.4,-4.74],[7.77,-4.62],[7.47,-5.03],[8.0,-4.62],[8.29,-5.26],[7.92,-5.85],[7.73,-5.32],[7.43,-5.32]]
const orangeBits = [
  [[-0.12,13.9],[-0.49,13.44]],
  [[-1.04,14.61],[-1.37,13.99]],
  [[5.09,15.33],[5.17,14.77],[5.17,14.51]],
  [[6.09,14.51],[6.6,13.9],[6.81,13.9],[7.0,13.38],[7.14,13.23]],
  [[5.5,13.38],[5.97,12.87],[6.13,12.77]],
  [[16.91,9.79],[16.84,9.26],[17.1,9.04]],
  [[12.4,7.09],[12.7,7.09],[13.0,7.18]],
  [[12.53,6.03],[12.9,6.07],[13.41,6.1]],
  [[12.96,1.33],[13.41,1.51]]
]

// gray
const grayMain = [[12.55,1.86],[12.88,2.08],[13.18,2.33],[13.41,2.64],[13.74,3.17],[13.91,3.55],[14.06,3.9],[14.17,4.3],[14.39,4.86],[14.62,5.2],[14.86,5.51],[15.18,5.76],[15.69,6.1],[16.07,6.25],[16.45,6.41],[16.67,6.74],[16.93,7.25],[16.85,7.65],[16.71,8.04],[16.54,8.39],[16.22,8.91],[16.0,9.26],[15.76,9.59],[15.53,9.92],[15.16,10.39],[14.88,10.72],[14.56,10.96],[14.24,11.21],[13.79,11.61],[13.41,11.7],[12.99,11.77],[12.62,11.7],[12.08,11.45],[11.67,11.39],[11.26,11.34],[10.86,11.41],[10.27,11.58],[9.9,11.72],[9.53,11.87],[9.14,12.01],[8.56,12.2],[8.15,12.08],[7.81,12.0],[7.37,12.02],[6.82,11.9],[6.49,11.66],[6.13,11.4],[6.05,11.02],[5.57,10.69],[5.27,10.44],[5.0,10.13],[4.9,9.72],[4.75,9.13],[4.63,8.75],[4.5,8.34],[4.33,8.0],[4.1,7.47],[4.16,7.02],[4.23,6.63],[4.52,6.36],[4.9,5.9],[4.99,5.49],[5.04,5.13],[4.73,4.84],[4.25,4.46],[3.91,4.26],[3.85,3.85],[3.81,3.43],[3.43,3.04],[3.07,2.87],[2.82,2.56],[2.63,2.2],[2.15,1.9],[1.77,1.77],[1.4,1.59],[1.08,1.38],[0.63,0.93],[0.38,0.62],[0.09,0.35],[-0.25,0.11],[-0.75,-0.24],[-1.08,-0.47],[-1.47,-0.57],[-1.86,-0.58],[-2.39,-0.77],[-2.88,-0.8],[-3.25,-0.94],[-3.61,-1.09],[-3.98,-1.21],[-4.86,-0.44],[-4.35,-1.02],[-5.31,-0.88],[-5.65,-1.06],[-6.07,-1.46],[-6.33,-1.59],[-6.68,-1.41],[-7.02,-1.19],[-7.49,-0.8],[-7.77,-0.48],[-8.12,-0.41],[-8.52,-0.44],[-9.12,-0.47],[-9.54,-0.47],[-9.85,-0.56],[-10.24,-0.8],[-10.78,-1.02],[-11.2,-1.06],[-11.57,-1.21],[-11.95,-1.39],[-12.38,-1.79],[-12.53,-2.15],[-12.55,-2.52],[-12.6,-2.95],[-12.83,-3.5],[-12.78,-3.85],[-12.6,-4.2],[-12.46,-4.6],[-12.41,-5.18],[-12.25,-5.55],[-12.01,-5.89],[-11.76,-6.22],[-11.39,-6.69],[-11.03,-6.85],[-10.66,-6.97],[-10.29,-7.13],[-9.77,-7.48],[-9.48,-7.77],[-9.18,-8.03],[-8.87,-8.32],[-8.45,-8.75],[-8.12,-9.01],[-7.82,-9.25],[-7.49,-9.48],[-7.01,-9.83],[-6.59,-9.87],[-6.19,-9.92],[-5.78,-9.92],[-5.16,-9.92],[-4.81,-9.7],[-4.46,-9.52],[-4.26,-9.17],[-4.05,-8.59],[-4.52,-7.97],[-4.54,-7.55],[-4.44,-7.0],[-3.96,-6.31],[-3.85,-5.93],[-3.74,-5.34],[-3.68,-4.94],[-3.6,-4.54],[-3.54,-4.14],[-3.4,-3.54],[-3.42,-3.14],[-3.48,-2.76],[-3.14,-2.35],[-2.98,-2.72],[-3.2,-2.5],[-2.88,-2.01],[-3.12,-1.77],[-3.65,-1.42],[-4.54,-1.5],[-4.93,-1.62],[-5.33,-1.66],[-5.95,-1.64],[-6.23,-1.81],[-6.38,-2.19],[-6.52,-2.59]]
const grayBits = [
  [[-5.73,-3.19],[-5.33,-3.16],[-4.94,-3.07]],
  [[13.7,1.91],[13.33,1.73],[13.02,1.55]],
  [[12.82,0.86],[12.42,0.76]],
  [[1.1,14.92],[0.81,14.72],[0.51,14.44]],
  [[0.3,15.38],[0.01,15.08]],
  [[-1.63,13.23],[-1.79,12.97]],
  [[4.57,14.74],[4.68,14.39],[4.79,14.0]],
  [[0.77,4.61],[0.89,3.85]]
]

// drawing order follows the plot: each colour sits on the one before, short red bits on top
const lineGroups = [
  { color: '#ff0000', width: 18, dash: 'solid', paths: [redLoopInner, redLoopOuter] },
  { color: '#00ff00', width: 19, dash: [28, 13], paths: [greenMain, ...greenBits] },
  { color: '#0000ff', width: 19, dash: [15, 19], paths: [blueMain, ...blueBits] },
  { color: '#ff00ff', width: 19, dash: [7.5, 10.5], paths: [magentaTop, magentaMid, ...magentaBits] },
  { color: '#00ffff', width: 19, dash: [41, 13, 7, 14], paths: [cyanLong, cyanUp, ...cyanBits] },
  { color: '#ffff00', width: 19, dash: [21, 19, 8, 20], paths: [yellowMain, ...yellowBits] },
  { color: '#000000', width: 19, dash: [15, 14, 15, 40], paths: [blackMain, ...blackBits] },
  { color: '#ff5000', width: 19, dash: [40, 13, 8, 13, 8, 13], paths: [orangeMain, orangeTail, ...orangeBits] },
  { color: '#808080', width: 19, dash: [15, 12, 15, 12, 15, 12, 15, 25], paths: [grayMain, ...grayBits] },
  { color: '#ff0000', width: 18, dash: 'solid', paths: redBits }
]

const series = []
lineGroups.forEach(group => {
  group.paths.forEach(path => {
    series.push({
      type: 'line',
      data: path,
      symbol: 'none',
      animation: false,
      clip: true,
      silent: true,
      lineStyle: {
        color: group.color,
        width: group.width,
        type: group.dash,
        cap: 'butt',
        join: 'miter',
        miterLimit: 12
      }
    })
  })
})

const frameLine = { onZero: false, lineStyle: { color: '#000', width: 8, cap: 'square' } }
const frameTick = { inside: true, length: 40, lineStyle: { color: '#000', width: 7 } }
const tickText = { fontFamily: 'Liberation Sans', fontSize: 172, color: '#000', margin: 96 }
const nameText = { fontFamily: 'Liberation Sans', fontSize: 172, color: '#000' }

const chart = echarts.init(document.getElementById('chart'), null, { renderer: 'canvas' })
chart.setOption({
  backgroundColor: '#fff',
  animation: false,
  grid: { left: 639, right: 111, top: 62, bottom: 486, containLabel: false, outerBoundsMode: 'none' },
  xAxis: [
    {
      type: 'value', position: 'bottom', min: xTicks[0], max: xTicks[xTicks.length - 1], interval: 5,
      name: 'x', nameLocation: 'middle', nameGap: 372, nameTextStyle: nameText,
      axisLine: frameLine, axisTick: frameTick, splitLine: { show: false },
      // the plot pads non-negative x labels with a leading blank
      axisLabel: { ...tickText, hideOverlap: false, showMinLabel: true, showMaxLabel: true,
        formatter: value => (value >= 0 ? '\u00a0' + value : String(value)) }
    },
    {
      type: 'value', position: 'top', min: xTicks[0], max: xTicks[xTicks.length - 1], interval: 5,
      axisLine: frameLine, axisTick: frameTick, splitLine: { show: false }, axisLabel: { show: false }
    }
  ],
  yAxis: [
    {
      type: 'value', position: 'left', min: yTicks[0], max: yTicks[yTicks.length - 1], interval: 5,
      name: 'y', nameLocation: 'middle', nameGap: 505, nameRotate: 90, nameTextStyle: nameText,
      axisLine: frameLine, axisTick: frameTick, splitLine: { show: false },
      axisLabel: { ...tickText, margin: 106, showMinLabel: true, showMaxLabel: true }
    },
    {
      type: 'value', position: 'right', min: yTicks[0], max: yTicks[yTicks.length - 1], interval: 5,
      axisLine: frameLine, axisTick: frameTick, splitLine: { show: false }, axisLabel: { show: false }
    }
  ],
  series: series
})
</script>
</body>
</html>
